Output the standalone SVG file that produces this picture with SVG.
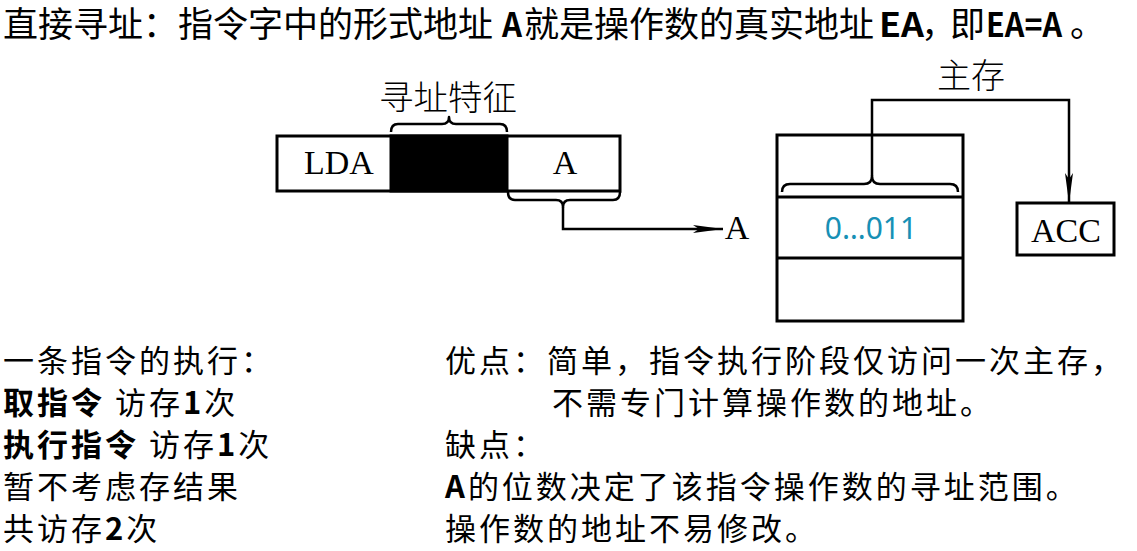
<svg xmlns="http://www.w3.org/2000/svg" width="1137" height="551" viewBox="0 0 1137 551">
<defs>
<style>
.cjk{font-family:"Noto Sans CJK SC","Noto Sans",sans-serif;fill:#000}
.title{font-size:35px}
.tl{font-size:33px;font-weight:bold}
.body{font-size:31px;letter-spacing:3px}
.b{font-weight:bold}
.serif{font-family:"Liberation Serif","Times New Roman",serif;font-size:34px;fill:#000}
.lbl{font-family:"Noto Sans CJK SC",sans-serif;font-size:34px;font-weight:300;fill:#000}
.box{fill:#fff;stroke:#000;stroke-width:3}
.line{fill:none;stroke:#000;stroke-width:2.5}
.brace{fill:none;stroke:#000;stroke-width:2.5;stroke-linejoin:round}
</style>
<marker id="arr" viewBox="0 0 30 10" refX="30" refY="5" markerWidth="30" markerHeight="10" markerUnits="userSpaceOnUse" orient="auto">
<path d="M0,1 L30,5 L0,9 L6,5 Z" fill="#000"/>
</marker>
</defs>
<rect width="1137" height="551" fill="#fff"/>

<g id="title" class="cjk">
<text class="title" x="3" y="37">直接寻址：指令字中的形式地址</text>
<text class="tl" x="502" y="37" textLength="20" lengthAdjust="spacingAndGlyphs">A</text>
<text class="title" x="524" y="37">就是操作数的真实地址</text>
<text class="tl" x="879" y="37" textLength="45" lengthAdjust="spacingAndGlyphs">EA</text>
<text class="title" x="921" y="37" letter-spacing="-6">，即</text>
<text class="tl" x="986" y="37" textLength="76" lengthAdjust="spacingAndGlyphs">EA=A</text>
<text class="title" x="1070" y="37">。</text>
</g>

<g id="instruction">
<rect class="box" x="277" y="136" width="343" height="55"/>
<rect x="391" y="136" width="116" height="55" fill="#000" stroke="#000" stroke-width="3"/>
<text class="serif" x="339" y="174" text-anchor="middle">LDA</text>
<text class="serif" x="565" y="174" text-anchor="middle">A</text>
<path class="brace" d="M391,132 Q391,124 398,124 L442,124 Q449,124 449,117 Q449,124 456,124 L500,124 Q507,124 507,132"/>
<text class="lbl" x="448" y="110" text-anchor="middle" textLength="138" lengthAdjust="spacingAndGlyphs">寻址特征</text>
<path class="brace" d="M508,192 Q508,200 515,200 L556,200 Q563,200 563,207 Q563,200 570,200 L613,200 Q620,200 620,192"/>
</g>

<g id="addressA">
<text class="serif" x="737" y="239" text-anchor="middle">A</text>
</g>

<g id="memory">
<rect class="box" x="777" y="135" width="186" height="186"/>
<line x1="777" y1="197" x2="963" y2="197" stroke="#000" stroke-width="3"/>
<line x1="777" y1="258" x2="963" y2="258" stroke="#000" stroke-width="3"/>
<text x="871" y="239" text-anchor="middle" font-family="Noto Sans,sans-serif" font-size="30" fill="#1790b5">0…011</text>
<path class="brace" d="M782,192 Q782,184 790,184 L864,184 Q872,184 872,176 Q872,184 880,184 L950,184 Q958,184 958,192"/>
<text class="lbl" x="971" y="88" text-anchor="middle">主存</text>
</g>

<g id="acc">
<rect class="box" x="1017" y="203" width="97" height="52"/>
<text class="serif" x="1066" y="242" text-anchor="middle">ACC</text>
</g>

<g id="connectors">
<path class="line" d="M563,207 L563,229 L723,229" marker-end="url(#arr)"/>
<path class="line" d="M872,176 L872,100 L1069,100 L1069,203" marker-end="url(#arr)"/>
</g>

<g id="notes-left" class="cjk body">
<text x="3" y="372">一条指令的执行：</text>
<text x="3" y="414"><tspan class="b">取指令</tspan> 访存<tspan class="b">1</tspan>次</text>
<text x="3" y="456"><tspan class="b">执行指令</tspan> 访存<tspan class="b">1</tspan>次</text>
<text x="3" y="498">暂不考虑存结果</text>
<text x="3" y="540">共访存<tspan class="b">2</tspan>次</text>
</g>

<g id="notes-right" class="cjk body">
<text x="445" y="372">优点：简单，指令执行阶段仅访问一次主存，</text>
<text x="552" y="414">不需专门计算操作数的地址。</text>
<text x="445" y="456">缺点：</text>
<text x="445" y="498"><tspan class="b">A</tspan>的位数决定了该指令操作数的寻址范围。</text>
<text x="445" y="540">操作数的地址不易修改。</text>
</g>
</svg>
